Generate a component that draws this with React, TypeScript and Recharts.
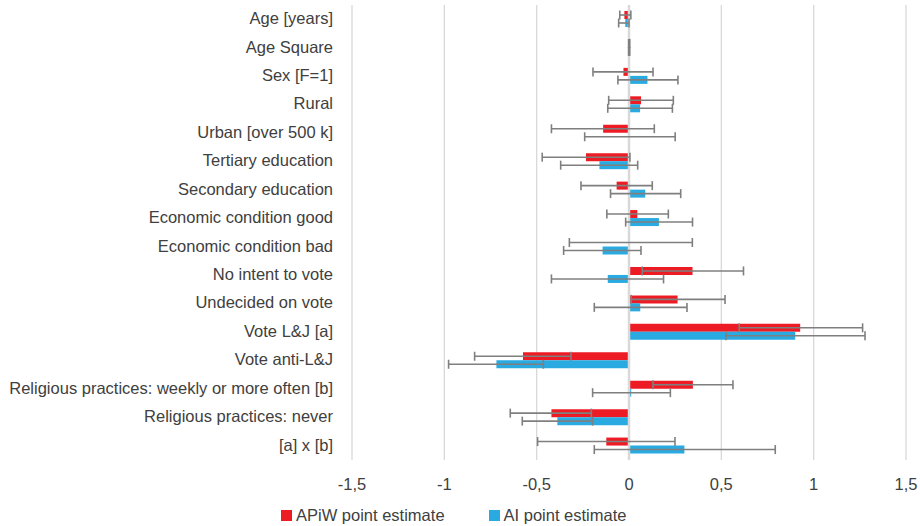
import React from 'react';
import { BarChart, Bar, XAxis, YAxis, CartesianGrid, ReferenceLine, ErrorBar, Legend } from 'recharts';

const categories = [
  'Age [years]',
  'Age Square',
  'Sex [F=1]',
  'Rural',
  'Urban [over 500 k]',
  'Tertiary education',
  'Secondary education',
  'Economic condition good',
  'Economic condition bad',
  'No intent to vote',
  'Undecided on vote',
  'Vote L&J [a]',
  'Vote anti-L&J',
  'Religious practices: weekly or more often [b]',
  'Religious practices: never',
  '[a] x [b]',
];

// APiW point estimates and 95% bounds
const apiw = [-0.025, 0.001, -0.03, 0.065, -0.14, -0.233, -0.067, 0.045, 0.005, 0.344, 0.263, 0.927, -0.574, 0.346, -0.42, -0.123];
const apiwLow = [-0.05, -0.002, -0.195, -0.11, -0.42, -0.47, -0.26, -0.12, -0.323, 0.072, 0.012, 0.597, -0.836, 0.13, -0.643, -0.495];
const apiwHigh = [0.01, 0.004, 0.13, 0.24, 0.137, 0.005, 0.126, 0.213, 0.343, 0.62, 0.52, 1.265, -0.314, 0.563, -0.204, 0.249];

// AI point estimates and 95% bounds
const ai = [-0.02, 0.001, 0.1, 0.06, 0.005, -0.16, 0.088, 0.162, -0.143, -0.115, 0.061, 0.9, -0.718, 0.012, -0.388, 0.3];
const aiLow = [-0.056, -0.002, -0.06, -0.115, -0.24, -0.37, -0.1, -0.018, -0.354, -0.42, -0.188, 0.525, -0.977, -0.197, -0.578, -0.188];
const aiHigh = [0.0, 0.004, 0.265, 0.235, 0.25, 0.047, 0.28, 0.344, 0.065, 0.187, 0.314, 1.278, -0.464, 0.224, -0.197, 0.792];

const xTicks = [-1.5, -1, -0.5, 0, 0.5, 1, 1.5];

const data = categories.map((name, i) => ({
  name,
  apiw: apiw[i],
  apiwErr: [apiw[i] - apiwLow[i], apiwHigh[i] - apiw[i]],
  ai: ai[i],
  aiErr: [ai[i] - aiLow[i], aiHigh[i] - ai[i]],
}));

const FONT = '"Liberation Sans", Arial, sans-serif';
const RED = '#ED1C24';
const BLUE = '#29ABE2';
const TEXT = '#404040';

const LegendContent = () => (
  <div
    style={{
      display: 'flex',
      alignItems: 'center',
      boxSizing: 'border-box',
      paddingLeft: 281,
      paddingTop: 9,
      height: 31,
      fontFamily: FONT,
      fontSize: 16.5,
      color: TEXT,
    }}
  >
    <span style={{ width: 11, height: 11, background: RED, display: 'inline-block', marginRight: 4 }} />
    <span style={{ marginRight: 44 }}>APiW point estimate</span>
    <span style={{ width: 11, height: 11, background: BLUE, display: 'inline-block', marginRight: 4 }} />
    <span>AI point estimate</span>
  </div>
);

export default function App() {
  return (
    <div style={{ position: 'absolute', left: 0, top: 0, background: '#fff', fontFamily: FONT }}>
      <BarChart
        width={920}
        height={526}
        data={data}
        layout="vertical"
        margin={{ top: 5, right: 14, bottom: 0, left: 0 }}
        barSize={8}
        barGap={0}
      >
        <CartesianGrid horizontal={false} stroke="#d9d9d9" strokeWidth={1.3} />
        <XAxis
          type="number"
          domain={[-1.5, 1.5]}
          ticks={xTicks}
          allowDataOverflow
          axisLine={false}
          tickLine={false}
          tickSize={0}
          tickMargin={18}
          height={35}
          interval={0}
          tickFormatter={(v: number) => String(v).replace('.', ',')}
          tick={{ fill: TEXT, fontSize: 16.5, fontFamily: FONT }}
        />
        <YAxis
          type="category"
          dataKey="name"
          width={352}
          axisLine={false}
          tickLine={false}
          tickSize={0}
          tickMargin={19}
          interval={0}
          tick={{ fill: TEXT, fontSize: 16.5, fontFamily: FONT, dy: -1 }}
        />
        <ReferenceLine x={0} stroke="#d9d9d9" strokeWidth={2.5} />
        <Legend verticalAlign="bottom" height={31} content={<LegendContent />} />
        <Bar dataKey="apiw" name="APiW point estimate" fill={RED} isAnimationActive={false}>
          <ErrorBar dataKey="apiwErr" direction="x" width={4.5} stroke="#7f7f7f" strokeWidth={1.6} isAnimationActive={false} />
        </Bar>
        <Bar dataKey="ai" name="AI point estimate" fill={BLUE} isAnimationActive={false}>
          <ErrorBar dataKey="aiErr" direction="x" width={4.5} stroke="#7f7f7f" strokeWidth={1.6} isAnimationActive={false} />
        </Bar>
      </BarChart>
    </div>
  );
}
